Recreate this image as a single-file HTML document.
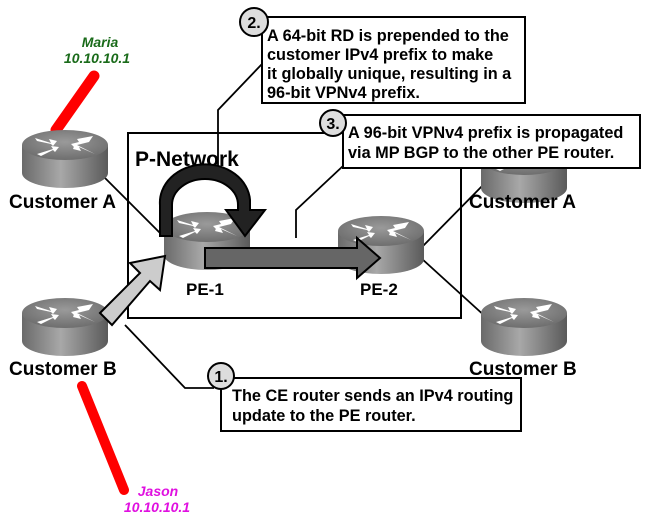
<!DOCTYPE html>
<html><head><style>
html,body{margin:0;padding:0;background:#fff;}
svg{display:block;font-family:"Liberation Sans",Arial,sans-serif;font-weight:bold;}
</style></head><body>
<svg width="648" height="521" viewBox="0 0 648 521" xmlns="http://www.w3.org/2000/svg">
<defs>
<linearGradient id="body" x1="0" x2="1" y1="0" y2="0">
<stop offset="0" stop-color="#6a6a6a"/><stop offset="0.45" stop-color="#a8a8a8"/><stop offset="1" stop-color="#5a5a5a"/>
</linearGradient>
<radialGradient id="top" cx="0.5" cy="0.4" r="0.6">
<stop offset="0" stop-color="#9a9a9a"/><stop offset="1" stop-color="#6e6e6e"/>
</radialGradient>
<g id="r">
<path d="M-43,0 L-43,28 A43,15 0 0 0 43,28 L43,0 Z" fill="url(#body)"/>
<ellipse cx="0" cy="0" rx="43" ry="15" fill="url(#top)"/>
<g fill="#fff">
<polygon points="-30,-7 -14,-2 -16,-6 -8,-4 -12,1 -14,-1 -28,-4"/>
<polygon points="28,-9 12,-6 14,-3 6,-1 10,3 12,0 24,-3"/>
<polygon points="-28,9 -12,4 -14,1 -6,2 -10,7 -12,5 -24,11"/>
<polygon points="30,9 14,2 16,6 8,4 10,-1 14,1 26,7" />
</g>
</g>
</defs>

<rect x="128" y="133" width="333" height="185" fill="none" stroke="#000" stroke-width="2"/>
<text x="135" y="166" font-size="21">P-Network</text>

<g stroke="#000" stroke-width="1.8" fill="none">
<line x1="105" y1="178" x2="162" y2="235"/>
<line x1="423" y1="246" x2="488" y2="180"/>
<line x1="421" y1="258" x2="487" y2="318"/>
<polyline points="125,325 185,388 214,388"/>
<polyline points="262,64 218,110 218,167"/>
<polyline points="343,166 296,210 296,238"/>
</g>

<line x1="56" y1="130" x2="94" y2="76" stroke="#f00" stroke-width="11" stroke-linecap="round"/>
<line x1="82" y1="386" x2="124" y2="490" stroke="#f00" stroke-width="10" stroke-linecap="round"/>

<use href="#r" x="65" y="145"/>
<use href="#r" x="65" y="313"/>
<use href="#r" x="207" y="227"/>
<use href="#r" x="381" y="231"/>
<use href="#r" x="524" y="160"/>
<use href="#r" x="524" y="313"/>

<polygon points="100,313 140,273 130,263 165,256 160,290 150,281 112,325" fill="#ccc" stroke="#000" stroke-width="2"/>

<path d="M160,236 L160,205 A45,38 0 0 1 250,200 L250,210 L265,210 L245,236 L226,210 L238,210 L238,205 A33,26 0 0 0 172,205 L172,236 Z" fill="#222" stroke="#000" stroke-width="2"/>

<polygon points="205,248 357,248 357,238 380,258 357,278 357,268 205,268" fill="#666" stroke="#000" stroke-width="2"/>

<g font-size="19">
<text x="9" y="208">Customer A</text>
<text x="9" y="375">Customer B</text>
<text x="469" y="208">Customer A</text>
<text x="469" y="375">Customer B</text>
</g>
<text x="186" y="295" font-size="17">PE-1</text>
<text x="360" y="295" font-size="17">PE-2</text>

<g font-style="italic" font-size="14" text-anchor="middle">
<text x="100" y="47" fill="#1a6b1a">Maria</text>
<text x="97" y="63" fill="#1a6b1a">10.10.10.1</text>
<text x="158" y="496" fill="#e010e0">Jason</text>
<text x="157" y="512" fill="#e010e0">10.10.10.1</text>
</g>

<rect x="262" y="17" width="263" height="86" fill="#fff" stroke="#000" stroke-width="2"/>
<g font-size="16.3">
<text x="267" y="41">A 64-bit RD is prepended to the</text>
<text x="267" y="60">customer IPv4 prefix to make</text>
<text x="267" y="79">it globally unique, resulting in a</text>
<text x="267" y="98">96-bit VPNv4 prefix.</text>
</g>
<circle cx="254" cy="22" r="14" fill="#ddd" stroke="#000" stroke-width="2"/>
<text x="254" y="28" font-size="16" text-anchor="middle">2.</text>

<rect x="343" y="115" width="297" height="53" fill="#fff" stroke="#000" stroke-width="2"/>
<g font-size="16.3">
<text x="348" y="138">A 96-bit VPNv4 prefix is propagated</text>
<text x="348" y="158">via MP BGP to the other PE router.</text>
</g>
<circle cx="333" cy="123" r="13" fill="#ddd" stroke="#000" stroke-width="2"/>
<text x="333" y="129" font-size="16" text-anchor="middle">3.</text>

<rect x="221" y="378" width="300" height="53" fill="#fff" stroke="#000" stroke-width="2"/>
<g font-size="16.3">
<text x="232" y="401">The CE router sends an IPv4 routing</text>
<text x="232" y="421">update to the PE router.</text>
</g>
<circle cx="221" cy="376" r="13" fill="#ddd" stroke="#000" stroke-width="2"/>
<text x="221" y="382" font-size="16" text-anchor="middle">1.</text>
</svg>
</body></html>
